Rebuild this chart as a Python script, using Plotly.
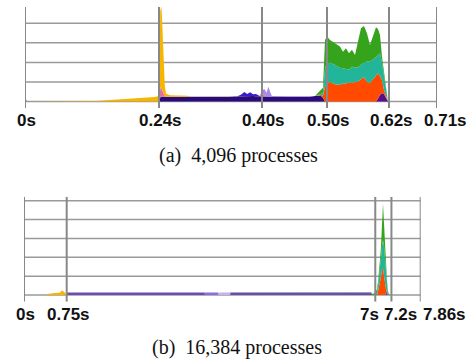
import plotly.graph_objects as go

# ---------------- Panel (a): 4,096 processes (time in s, height in grid units) ----------------
A_PHASE_T = [0.0, 0.2309, 0.4084, 0.5204, 0.6273, 0.71]
A_PHASE_LBL = ["0s", "0.24s", "0.40s", "0.50s", "0.62s", "0.71s"]
A_GRID = [0, 1, 2, 3, 4]

a_indigo_t = [0.2315, 0.2335, 0.26, 0.30, 0.35, 0.37, 0.39, 0.40, 0.45, 0.49, 0.505, 0.5101, 0.5135, 0.5170]
a_indigo_v = [0, 0.25, 0.24, 0.25, 0.24, 0.27, 0.30, 0.26, 0.24, 0.25, 0.30, 0.28, 0.20, 0]

a_purple_t = [0.6049, 0.6083, 0.6118, 0.6152, 0.6186, 0.6221, 0.6255]
a_purple_v = [0, 0.15, 0.35, 0.43, 0.38, 0.20, 0]

a_burst_t = [0.4997, 0.5049, 0.5101, 0.5135, 0.5170, 0.5204, 0.5256, 0.5342, 0.5428, 0.5480,
             0.5532, 0.5583, 0.5635, 0.5687, 0.5738, 0.5790, 0.5842, 0.5893, 0.5945, 0.5997,
             0.6049, 0.6083, 0.6118, 0.6152, 0.6186, 0.6221, 0.6255]
a_orange_v = [0, 0, 0.05, 0.10, 0.77, 0.94, 1.00, 0.88, 0.85, 0.94, 0.92, 0.97, 0.95, 1.00,
              1.02, 1.14, 1.25, 1.00, 0.94, 1.14, 1.30, 1.30, 0.95, 0.67, 0.22, 0.10, 0]
a_teal_v = [0, 0.02, 0.05, 0.15, 0.93, 1.01, 1.00, 0.99, 0.87, 0.76, 0.73, 0.65, 0.84, 0.72,
            0.73, 0.76, 0.75, 1.04, 1.11, 1.01, 1.00, 0.93, 1.15, 0.90, 0.70, 0.20, 0]
a_green_v = [0, 0.13, 0.25, 0.25, 1.45, 1.37, 1.15, 1.11, 1.09, 0.85, 1.07, 0.85, 0.85, 0.66,
             1.23, 1.84, 1.86, 1.45, 0.84, 1.25, 1.50, 1.32, 0.95, 0.30, 0.20, 0.10, 0]

a_blue_t = [0.365, 0.372, 0.378, 0.383, 0.388, 0.393, 0.398, 0.402, 0.406]
a_blue_v = [0, 0.08, 0.20, 0.10, 0.18, 0.08, 0.12, 0.05, 0]

a_pink_t = [0.0, 0.002, 0.004, 0.229, 0.2315, 0.2335, 0.236, 0.239, 0.242, 0.404, 0.408, 0.412, 0.416]
a_pink_v = [0, 0.10, 0, 0, 0.20, 0.50, 0.40, 0.10, 0, 0, 0.15, 0.10, 0]

a_lav_t = [0.405, 0.409, 0.413, 0.416, 0.4195, 0.423, 0.426]
a_lav_v = [0, 0.20, 0.30, 0.20, 0.50, 0.20, 0]

a_yellow_t = [0.118, 0.124, 0.146, 0.172, 0.198, 0.215, 0.224, 0.229, 0.2315, 0.2330, 0.2350,
              0.2365, 0.2380, 0.2395, 0.2410, 0.2430, 0.2500, 0.2800, 0.2850]
a_yellow_v = [0, 0.03, 0.08, 0.12, 0.17, 0.20, 0.23, 0.27, 0.30, 4.00, 4.20,
              3.50, 2.70, 1.50, 0.50, 0.15, 0.08, 0.05, 0]

# ---------------- Panel (b): 16,384 processes ----------------
B_PHASE_T = [0.0, 0.846, 6.96, 7.28, 7.86]
B_PHASE_LBL = ["0s", "0.75s", "7s", "7.2s", "7.86s"]
B_GRID = [0, 1, 2, 3, 4, 5]

b_yellow_t = [0.44, 0.45, 0.614, 0.713, 0.753, 0.79, 0.812, 0.86]
b_yellow_v = [0, 0.05, 0.10, 0.12, 0.25, 0.18, 0.12, 0]

b_purple_t = [0.84, 0.85, 3.58, 3.586, 4.082, 4.088, 6.88, 6.90, 7.15, 7.17, 7.20, 7.21]
b_purple_v = [0, 0.13, 0.13, 0, 0, 0.13, 0.13, 0, 0, 0.10, 0.10, 0]

b_violet_t = [3.58, 3.586, 3.85, 3.856]
b_violet_v = [0, 0.13, 0.13, 0]
b_lilac_t = [3.85, 3.856, 4.082, 4.088]
b_lilac_v = [0, 0.13, 0.13, 0]

b_burst_t = [6.875, 6.895, 6.955, 6.994, 7.014, 7.034, 7.054, 7.074, 7.093, 7.113,
             7.133, 7.153, 7.173, 7.193, 7.212, 7.232, 7.252]
b_orange_v = [0, 0, 0, 0, 0.20, 0.40, 0.70, 1.00, 1.35, 1.40, 0.90, 0.50, 0.20, 0, 0, 0, 0]
b_teal_v = [0, 0, 0, 0.10, 0.30, 0.50, 0.80, 1.00, 1.25, 1.50, 1.70, 1.30, 0.80, 0.40, 0.10, 0, 0]
b_green_v = [0, 0.05, 0.10, 0.20, 0.20, 0.30, 0.40, 0.60, 1.20, 1.95, 1.20, 0.70, 0.30, 0.20, 0.10, 0.05, 0]

COL = {
    "indigo": "#2B0B7A", "purple": "#5A0D8A", "orange": "#FF4A00", "teal": "#22B59A",
    "green": "#36A31C", "blue": "#3A1BD0", "pink": "#E56FA0", "lav": "#A78BEA",
    "yellow": "#F7B500", "bpurple": "#6B4DB0", "violet": "#8C6EE0", "lilac": "#C6B4EF",
}

fig = go.Figure()


def area(t, v, col, xa, ya, grp):
    fig.add_trace(go.Scatter(
        x=t, y=v, mode="lines", line=dict(width=0, color=col), fillcolor=col,
        stackgroup=grp, stackgaps="interpolate", xaxis=xa, yaxis=ya,
        hoverinfo="skip", showlegend=False))


# panel a stack (bottom -> top)
area(a_indigo_t, a_indigo_v, COL["indigo"], "x", "y", "a")
area(a_purple_t, a_purple_v, COL["purple"], "x", "y", "a")
area(a_burst_t, a_orange_v, COL["orange"], "x", "y", "a")
area(a_burst_t, a_teal_v, COL["teal"], "x", "y", "a")
area(a_burst_t, a_green_v, COL["green"], "x", "y", "a")
area(a_blue_t, a_blue_v, COL["blue"], "x", "y", "a")
area(a_pink_t, a_pink_v, COL["pink"], "x", "y", "a")
area(a_lav_t, a_lav_v, COL["lav"], "x", "y", "a")
area(a_yellow_t, a_yellow_v, COL["yellow"], "x", "y", "a")

# panel b stack
area(b_purple_t, b_purple_v, COL["bpurple"], "x2", "y2", "b")
area(b_violet_t, b_violet_v, COL["violet"], "x2", "y2", "b")
area(b_lilac_t, b_lilac_v, COL["lilac"], "x2", "y2", "b")
area(b_yellow_t, b_yellow_v, COL["yellow"], "x2", "y2", "b")
area(b_burst_t, b_orange_v, COL["orange"], "x2", "y2", "b")
area(b_burst_t, b_teal_v, COL["teal"], "x2", "y2", "b")
area(b_burst_t, b_green_v, COL["green"], "x2", "y2", "b")

W, H = 471, 363
A_YR = [-0.33, 4.83]
B_YR = [-0.355, 5.21]

shapes = []
for g in A_GRID:
    shapes.append(dict(type="line", xref="x", yref="y", x0=A_PHASE_T[0], x1=A_PHASE_T[-1], y0=g, y1=g,
                       line=dict(color="#9a9a9a", width=1.5), layer="below"))
for g in B_GRID:
    shapes.append(dict(type="line", xref="x2", yref="y2", x0=B_PHASE_T[0], x1=B_PHASE_T[-1], y0=g, y1=g,
                       line=dict(color="#9a9a9a", width=1.5), layer="below"))
for t in A_PHASE_T:
    shapes.append(dict(type="line", xref="x", yref="y", x0=t, x1=t, y0=A_YR[0], y1=A_YR[1],
                       line=dict(color="#888888", width=2), layer="above"))
for t in B_PHASE_T:
    shapes.append(dict(type="line", xref="x2", yref="y2", x0=t, x1=t, y0=B_YR[0], y1=B_YR[1],
                       line=dict(color="#888888", width=2), layer="above"))

annotations = []
tick_font = dict(family="Liberation Sans, Arial, sans-serif", size=17, color="#111111")
a_shift = [1, 2, 2, 2, 2, 8]
for t, lbl, s in zip(A_PHASE_T, A_PHASE_LBL, a_shift):
    annotations.append(dict(x=t, y=1 - 121 / H, xref="x", yref="paper", text="<b>%s</b>" % lbl,
                            showarrow=False, xshift=s, font=tick_font, xanchor="center", yanchor="middle"))
b_shift = [1, 2, -6, 9, 24]
for t, lbl, s in zip(B_PHASE_T, B_PHASE_LBL, b_shift):
    annotations.append(dict(x=t, y=1 - 314 / H, xref="x2", yref="paper", text="<b>%s</b>" % lbl,
                            showarrow=False, xshift=s, font=tick_font, xanchor="center", yanchor="middle"))

cap_font = dict(family="Liberation Serif, Times New Roman, serif", size=20, color="#111111")
annotations.append(dict(x=238 / W, y=1 - 155 / H, xref="paper", yref="paper",
                        text="(a)\u00a0\u00a04,096 processes", showarrow=False, font=cap_font,
                        xanchor="center", yanchor="middle"))
annotations.append(dict(x=237 / W, y=1 - 347 / H, xref="paper", yref="paper",
                        text="(b)\u00a0\u00a016,384 processes", showarrow=False, font=cap_font,
                        xanchor="center", yanchor="middle"))

ax_common = dict(showgrid=False, zeroline=False, showticklabels=False, ticks="", showline=False, fixedrange=True)
fig.update_layout(
    width=W, height=H, margin=dict(l=0, r=0, t=0, b=0),
    paper_bgcolor="white", plot_bgcolor="white",
    xaxis=dict(domain=[25 / W, 437 / W], range=[A_PHASE_T[0], A_PHASE_T[-1]], anchor="y", **ax_common),
    yaxis=dict(domain=[1 - 108 / H, 1 - 7 / H], range=A_YR, anchor="x", **ax_common),
    xaxis2=dict(domain=[24 / W, 420.7 / W], range=[B_PHASE_T[0], B_PHASE_T[-1]], anchor="y2", **ax_common),
    yaxis2=dict(domain=[1 - 301.7 / H, 1 - 196.7 / H], range=B_YR, anchor="x2", **ax_common),
    shapes=shapes, annotations=annotations, showlegend=False,
)

fig.write_html("out.html")
